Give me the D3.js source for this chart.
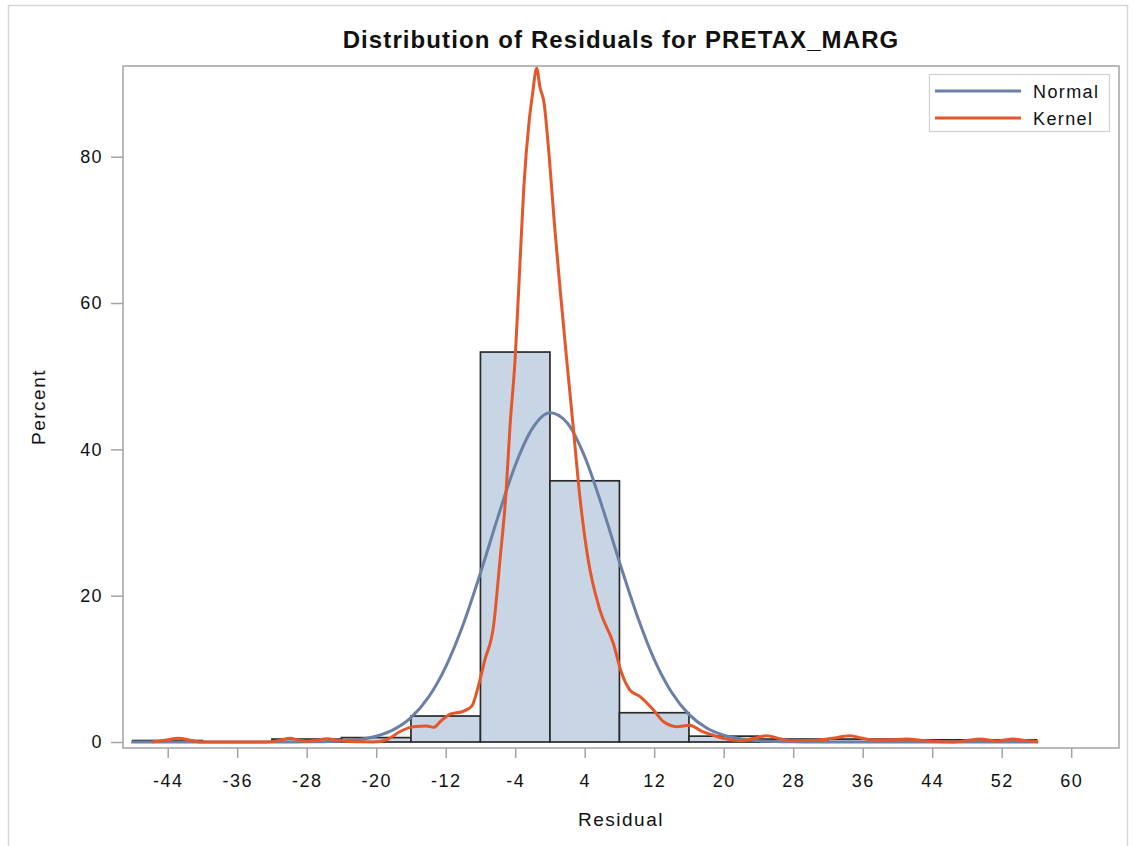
<!DOCTYPE html>
<html>
<head>
<meta charset="utf-8">
<script src="https://cdn.jsdelivr.net/npm/d3@7"></script>
<style>
  body { margin: 0; background: #fff; }
  text { font-family: "Liberation Sans", Arial, sans-serif; fill: #111; }
</style>
</head>
<body>
<script>
const WIDTH = 1134;
const HEIGHT = 846;
const FRAME = { left: 123, top: 66, right: 1119, bottom: 748 };

// data
const BIN_MIDPOINTS = [-44, -36, -28, -20, -12, -4, 4, 12, 20, 28, 36, 44, 52];
const BIN_PERCENTS = [0.2, 0, 0.4, 0.6, 3.55, 53.3, 35.7, 4.0, 0.8, 0.4, 0.4, 0.3, 0.3];
const BIN_WIDTH = 8;
const X_TICKS = [-44, -36, -28, -20, -12, -4, 4, 12, 20, 28, 36, 44, 52, 60];
const Y_TICKS = [0, 20, 40, 60, 80];

const NORMAL_X = [-48.2, -36, -30, -28, -26, -24, -22, -20, -18, -16, -14, -12, -10, -8, -6, -4, -2, 0, 2, 4, 6, 8, 10, 12, 14, 16, 18, 20, 22, 24, 26, 28, 30, 40, 56.2];
const NORMAL_Y = [0, 0, 0.005, 0.02, 0.05, 0.14, 0.34, 0.79, 1.69, 3.33, 6.09, 10.28, 16.03, 23.1, 30.7, 37.8, 42.9, 45.0, 43.6, 39.0, 32.2, 24.6, 17.4, 11.3, 6.8, 3.78, 1.94, 0.92, 0.4, 0.16, 0.06, 0.02, 0.005, 0, 0];

const KERNEL_X = [-45.8, -44.3, -42.8, -41.4, -40.3, -32.6, -31.2, -29.9, -28.9, -28.0, -26.8, -25.7, -24.5, -23.4, -21.8, -20.3, -18.8, -17.3, -16.1, -15.7, -14.2, -13.4, -12.6, -11.5, -10, -9, -8.25, -7.5, -6.5, -5.75, -5.06, -4.6, -4.0, -3.45, -3.0, -2.4, -2.0, -1.53, -1.15, -0.7, -0.1, 0.5, 1.2, 1.95, 2.7, 3.4, 4.4, 5.76, 7.29, 8.26, 9.21, 10.37, 11.9, 13.05, 14.59, 16.12, 17.27, 18.6, 19.95, 21.9, 23.5, 24.95, 26.3, 27.6, 30.3, 32.5, 34.5, 36, 37.2, 39.1, 41.1, 42.6, 44.1, 46.4, 48, 49.5, 51.4, 53.3, 54.8, 56.2];
const KERNEL_Y = [0, 0.25, 0.5, 0.25, 0, 0, 0.2, 0.5, 0.25, 0.1, 0.25, 0.45, 0.25, 0.1, 0.02, 0, 0.3, 1.4, 2.0, 2.1, 2.2, 2.0, 2.8, 3.8, 4.2, 4.9, 7.6, 11.2, 15.8, 24.9, 34, 43.1, 52.5, 65.5, 76.0, 84.8, 88.6, 92.1, 89.5, 87.5, 80.2, 71.0, 61.5, 52.0, 42.8, 34, 24.9, 18.0, 13.5, 9.4, 7.1, 6.2, 4.4, 2.8, 2.1, 2.3, 1.6, 1.0, 0.5, 0.18, 0.5, 0.86, 0.5, 0.18, 0.2, 0.5, 0.86, 0.5, 0.27, 0.3, 0.4, 0.25, 0.1, 0, 0.2, 0.4, 0.14, 0.4, 0.2, 0.05];

const COLOR_BAR = "#c8d5e5";
const COLOR_NORMAL = "#6a80a6";
const COLOR_KERNEL = "#e5562a";
const COLOR_FRAME = "#a3a3a3";

const svg = d3.select("body").append("svg")
  .attr("width", WIDTH)
  .attr("height", HEIGHT);

const xScale = d3.scaleLinear().domain([-44, 60]).range([167.7, 1071.2]);
const yScale = d3.scaleLinear().domain([0, 80]).range([742, 156.7]);

//outer border of the graph
svg.append("path")
  .attr("d", `M8.5,${HEIGHT + 5} V5.5 H1127.5 V${HEIGHT + 5}`)
  .attr("fill", "none")
  .attr("stroke", "#d6d6d6")
  .attr("stroke-width", 1.5);

//title
svg.append("text")
  .attr("x", 621)
  .attr("y", 48)
  .attr("text-anchor", "middle")
  .style("font-size", "24px")
  .style("font-weight", "bold")
  .style("letter-spacing", "1.1px")
  .text("Distribution of Residuals for PRETAX_MARG");

//histogram bars
svg.append("g").selectAll("rect")
  .data(BIN_MIDPOINTS.map((m, i) => [m, BIN_PERCENTS[i]]))
  .enter().append("rect")
  .attr("x", d => xScale(d[0] - BIN_WIDTH / 2))
  .attr("y", d => yScale(d[1]))
  .attr("width", d => xScale(d[0] + BIN_WIDTH / 2) - xScale(d[0] - BIN_WIDTH / 2))
  .attr("height", d => yScale(0) - yScale(d[1]))
  .attr("fill", COLOR_BAR)
  .attr("stroke", "#2a2a2a")
  .attr("stroke-width", 1.7);

//curves
const line = d3.line()
  .x(d => xScale(d[0]))
  .y(d => yScale(d[1]))
  .curve(d3.curveMonotoneX);

svg.append("path")
  .datum(NORMAL_X.map((x, i) => [x, NORMAL_Y[i]]))
  .attr("d", line)
  .attr("fill", "none")
  .attr("stroke", COLOR_NORMAL)
  .attr("stroke-width", 3);

svg.append("path")
  .datum(KERNEL_X.map((x, i) => [x, KERNEL_Y[i]]))
  .attr("d", line)
  .attr("fill", "none")
  .attr("stroke", COLOR_KERNEL)
  .attr("stroke-width", 3);

//plot frame
svg.append("rect")
  .attr("x", FRAME.left)
  .attr("y", FRAME.top)
  .attr("width", FRAME.right - FRAME.left)
  .attr("height", FRAME.bottom - FRAME.top)
  .attr("fill", "none")
  .attr("stroke", COLOR_FRAME)
  .attr("stroke-width", 1.5);

//axes
const xAxis = d3.axisBottom(xScale).tickValues(X_TICKS).tickSize(10).tickPadding(16);
const yAxis = d3.axisLeft(yScale).tickValues(Y_TICKS).tickSize(12).tickPadding(8);

const gx = svg.append("g")
  .attr("transform", "translate(0," + FRAME.bottom + ")")
  .call(xAxis);
const gy = svg.append("g")
  .attr("transform", "translate(" + FRAME.left + ",0)")
  .call(yAxis);

[gx, gy].forEach(g => {
  g.select(".domain").remove();
  g.selectAll(".tick line").attr("stroke", COLOR_FRAME).attr("stroke-width", 1.5);
  g.selectAll(".tick text")
    .attr("fill", "#111")
    .style("font-size", "18px")
    .style("letter-spacing", "1.4px")
    .style("font-family", "'Liberation Sans', Arial, sans-serif");
});
gx.selectAll(".tick text").text(d => String(d));

//axis labels
svg.append("text")
  .attr("x", 621)
  .attr("y", 826)
  .attr("text-anchor", "middle")
  .style("font-size", "19px")
  .style("letter-spacing", "1.5px")
  .text("Residual");

svg.append("text")
  .attr("transform", "translate(45,407) rotate(-90)")
  .attr("text-anchor", "middle")
  .style("font-size", "19px")
  .style("letter-spacing", "1.5px")
  .text("Percent");

//legend
const legend = svg.append("g");
legend.append("rect")
  .attr("x", 929.5)
  .attr("y", 74.5)
  .attr("width", 180)
  .attr("height", 57)
  .attr("fill", "#fff")
  .attr("stroke", "#d0d0d0")
  .attr("stroke-width", 1.2);

[["Normal", COLOR_NORMAL, 91], ["Kernel", COLOR_KERNEL, 118]].forEach(([name, color, y]) => {
  legend.append("line")
    .attr("x1", 935).attr("x2", 1021)
    .attr("y1", y).attr("y2", y)
    .attr("stroke", color)
    .attr("stroke-width", 3);
  legend.append("text")
    .attr("x", 1033)
    .attr("y", y + 6.5)
    .style("font-size", "18px")
    .style("letter-spacing", "1.4px")
    .text(name);
});
</script>
</body>
</html>
